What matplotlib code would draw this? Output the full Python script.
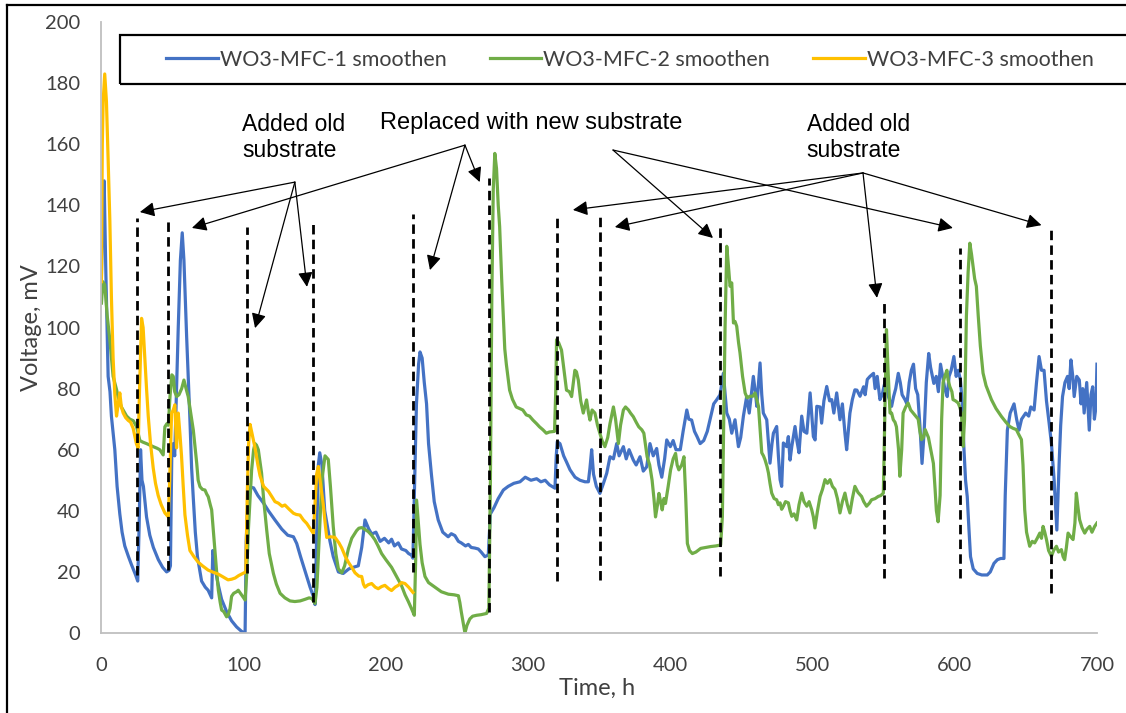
import matplotlib
matplotlib.use('Agg')
import matplotlib.pyplot as plt
from matplotlib.lines import Line2D
from matplotlib.patches import Rectangle

plt.rcParams['font.family'] = ['Lato', 'DejaVu Sans']

# Datos (tiempo h, voltaje mV)
mfc1 = [(0, 117), (1.2, 140), (1.9, 148), (3, 120), (4.7, 84), (6, 79), (7, 71), (9.4, 60), (11, 48),
        (12.9, 39), (14.5, 33), (16.4, 28.5), (19, 25), (21, 22.5), (24, 19), (25.5, 17),
        (26.5, 35), (27.5, 60), (28.5, 50), (29.5, 48), (31.7, 38), (34, 32), (36.5, 28), (40, 24),
        (43, 21.5), (45.8, 20), (47.5, 20.5),
        (48.5, 22), (49.5, 60), (50.5, 62), (51.5, 58), (52.5, 75), (54, 100), (55.5, 122), (56.8, 131),
        (58, 122), (59.9, 97), (61, 84), (62.2, 70), (63.4, 54), (64.6, 44), (66, 33), (67.5, 25),
        (70.4, 17), (73, 15), (75, 14), (77.5, 11.5), (78.3, 27), (79, 25), (80, 21), (82, 16),
        (84.5, 11), (88, 7), (91.5, 4), (95, 2), (98.6, 0.5), (101, 0),
        (101.8, 30), (103, 44), (105, 47.7), (107, 47.5), (110, 45), (114, 42.5), (117.4, 40), (122, 37),
        (126.8, 34), (131, 32), (135, 31.5), (137.3, 29.3), (140, 25), (142, 22), (146.7, 15), (149, 12),
        (150.2, 9.3),
        (151.5, 35), (152.5, 55), (153.5, 59), (155, 55), (157, 40), (160.7, 30), (163, 25), (166.6, 20),
        (170, 19.5), (174, 21), (177, 21.5), (180.6, 22), (183, 28), (185.3, 37), (188, 34), (190, 32.4),
        (193, 33), (196, 30), (199, 31), (202, 29.5), (204, 30.7), (206, 28.5), (208.7, 29.5), (211, 27.5),
        (214, 27), (216, 26), (218, 25.5), (219, 24.5),
        (220, 45), (221.5, 75), (223, 88), (224, 92), (225.5, 90), (227, 82), (228.6, 75), (230, 62),
        (232, 52), (234, 43), (236.8, 37), (240, 33), (243.8, 31.5), (246, 32.5), (248.5, 31.9),
        (251, 30), (253, 29.5), (256, 28.5), (258, 29), (260, 28), (262.6, 27.8), (265, 27.5),
        (267, 26.5), (269.6, 25), (272, 25.5),
        (273.5, 39), (276, 41), (279, 44), (282.6, 46.8), (286, 48), (290, 49), (294.3, 49.5), (298, 51),
        (302, 50), (306, 50.5), (309, 49.5), (312, 50), (315, 48.5), (318.9, 47.4),
        (319.8, 58), (320.5, 62.6), (322.4, 62), (325, 58), (327, 56), (329.5, 53.4), (333, 51),
        (336.5, 50), (340, 49.5), (342.4, 49.5), (343.5, 54), (344.7, 60), (346, 52), (348, 48),
        (350.5, 45.7), (353, 49), (355.3, 52.3), (357.6, 57.7), (360, 57), (362.3, 62), (364, 58),
        (367, 61), (369, 57), (371, 60), (374, 56.6), (376, 55), (378.7, 57.7), (381, 53), (383.4, 54.4),
        (385.7, 62), (388, 58), (390.4, 60.4), (392, 55), (394, 51), (396, 57), (397.5, 63.2), (400, 61),
        (402, 63), (404, 60), (407, 60), (409, 66), (411.6, 73), (413, 70), (415, 69.7), (417, 66),
        (418.8, 64.3), (421, 62), (423.5, 63), (426, 66), (428, 70), (430.5, 75), (432.7, 76.4),
        (435, 78), (437.3, 85), (439.7, 72), (441.5, 70), (443.2, 65.4), (445.5, 69.8), (447.9, 61),
        (449.5, 64), (451.4, 71), (453.7, 77.4), (455.5, 72), (458.4, 84), (460, 78), (460.8, 74.2),
        (463.1, 88.4), (464.3, 78), (465.4, 72), (467.8, 69.8), (470.1, 55.6), (471.5, 62), (472.5, 65.4),
        (474.8, 67.6), (476, 58), (477.2, 50.2), (478.3, 48), (479.5, 62.2), (481.8, 61), (483, 64.3),
        (484.2, 56.6), (485.4, 61), (487.7, 67.6), (489, 63), (490.5, 59), (492.4, 71), (494, 66),
        (496, 65.4), (498.3, 78.6), (500, 68), (500.6, 64.3), (501.8, 63.2), (503, 74.2), (505.3, 74),
        (506.4, 68.7), (508, 76), (510, 80.7), (512, 76), (513.5, 76.4), (515, 72), (517, 78.6),
        (519.3, 69.8), (521, 75), (522.8, 65.4), (524, 60), (526.3, 72), (528, 76.4), (529.8, 79.6),
        (531.2, 79.5), (533.4, 77.5), (535.9, 80.6), (537, 78), (538.5, 83), (540.4, 84), (542.9, 85),
        (544, 80), (545.5, 84), (547.4, 76.4), (549, 78), (550.2, 80.7), (551.5, 83), (553, 78),
        (555.6, 74.2), (557, 77.4), (558.5, 80), (560.3, 85), (561.7, 82), (563, 78), (565, 76.4),
        (566.4, 75), (568, 82), (569.5, 86), (571, 88), (572.5, 80), (574, 78), (575.5, 68), (577, 55.5),
        (578.5, 66), (580, 82), (581.7, 91.5), (583, 87), (585.3, 81.7), (587, 84), (588.5, 79),
        (590, 88), (591.5, 84), (593, 80), (594.7, 77.4), (596, 84), (597.5, 86), (599.4, 90.5),
        (601, 84), (602.5, 86), (604, 82.8), (605.3, 75), (606.4, 61), (607.6, 50), (608.8, 44.6),
        (610, 34), (611.1, 25), (613, 21), (615.8, 19.5), (619, 19), (622.9, 19), (625, 20),
        (627.6, 22.8), (630, 24), (632.3, 24.4), (634.6, 24.4), (635.5, 45), (637, 66.4), (639, 72),
        (641.7, 75), (643.5, 70), (645.2, 66.4), (647, 70), (649.9, 72), (652, 71), (653.5, 74),
        (655.8, 73), (657.5, 82), (659.3, 90.5), (661, 86), (662.8, 86), (664.5, 76), (666.4, 68.6),
        (668, 62), (669.9, 50), (671.8, 33.7), (673.4, 55.5), (674.5, 68), (675.8, 77.4), (677.5, 82),
        (679.3, 84), (680.5, 80), (681.7, 89.4), (683, 84), (684, 77.4), (685.8, 84), (687.6, 82.8),
        (688.8, 75), (690, 80), (691, 72), (692.8, 82), (694, 72), (694.6, 66.4), (695.8, 78),
        (697, 80.6), (698.2, 70), (699.3, 74), (700, 88)]

mfc2 = [(0, 108), (1, 115), (2.3, 114), (4, 104), (5.9, 96), (8.2, 84), (10.7, 79.5), (11.7, 77.3),
        (14, 74), (17.7, 71), (20, 70), (22.4, 69.5), (24.7, 67.5), (25.5, 66), (27, 63), (29, 62.5),
        (31.7, 62), (34, 61.5), (36.4, 61), (39, 60.5), (41, 60), (43.4, 58.3), (44.6, 67.5), (46, 68.5),
        (47, 68), (48.2, 77.4), (49.5, 84.5), (50.5, 84), (51.5, 79), (52.9, 77.4), (54.5, 78),
        (56.4, 80), (58, 82.8), (59.5, 80), (61, 77.4), (62.8, 72), (64.6, 66.4), (66, 60), (67, 55.5),
        (68, 50), (69.3, 47.9), (71, 47), (72.8, 46.8), (74, 45.5), (75.1, 44.6), (76.5, 42),
        (77.5, 40.3), (78.6, 34), (79.8, 27.2), (81, 20), (82.2, 14), (83.5, 10), (84.5, 7.5), (86, 7),
        (88, 5.3), (89.2, 6), (90.4, 8), (91.5, 12), (93, 13), (95, 13.5), (96.2, 14), (98.5, 12.5),
        (100, 11.5), (101, 10.8), (102, 18), (103.3, 33.7), (104.5, 44), (105.6, 53.4), (107, 60),
        (108, 62), (109, 61.5), (110.3, 60), (111.5, 56), (112.6, 52.3), (114, 44), (116.2, 33.7),
        (118, 26), (120.9, 19.5), (123, 16), (125.6, 13), (129, 11.5), (132.6, 10.5), (136, 10.3),
        (139.7, 10.5), (143, 11), (146, 11.5), (147.9, 11.3), (150.2, 9.7), (151.5, 15), (153, 30),
        (155, 50), (157.2, 58), (159.5, 56.8), (161, 48), (163, 34.8), (164.8, 26), (166.6, 21),
        (169, 19.7), (171, 22), (173.6, 27.5), (176, 31), (179.4, 33.5), (181, 34.3), (183, 34.5),
        (185, 34), (187.6, 33.2), (190, 32), (192.3, 30.5), (194.5, 28.5), (197, 26), (200, 24),
        (204, 21.5), (207.5, 18.5), (211, 15.5), (213.5, 12.5), (215.7, 10.4), (218, 8), (220, 5.8),
        (221, 25), (221.6, 43.5), (222.5, 38), (224, 29), (225.5, 23), (227.5, 18.5), (230, 16.5),
        (234.5, 15), (239, 13.5), (244, 12.7), (248, 12.5), (251, 12.2), (252, 10), (253, 7),
        (254.5, 3), (255.6, 0), (257, 2.5), (259, 4.6), (261, 5.5), (263.8, 5.8), (267, 6),
        (270.8, 6.4), (272.4, 8.1), (273.5, 50), (274.5, 110), (275.5, 145), (276.6, 157),
        (277.8, 152), (279, 140), (280, 133), (281.5, 115), (283.6, 93), (284.7, 88), (287, 79.5),
        (289, 76.5), (291.6, 74), (294, 73.5), (296.3, 73), (298.7, 71.4), (301, 71), (303.4, 69.7),
        (306, 68.5), (308, 67.5), (310.5, 66.5), (312.8, 65.4), (315, 65.8), (318.6, 66), (319.5, 80),
        (320, 96), (321.5, 95), (323.5, 92.6), (325, 87), (327, 79.5), (329, 79), (330.6, 77.4),
        (332.9, 86), (334, 85.5), (335.3, 82.8), (337, 76), (338.8, 72), (341.1, 76.3), (342.5, 72),
        (343.5, 69.7), (345, 73), (347, 72), (348.8, 68), (350.5, 65.4), (352, 63), (354, 61),
        (356, 64), (357.6, 68.6), (360, 74), (361.5, 70), (363.5, 62), (365, 68), (367, 73),
        (368.5, 74), (370.6, 73), (372, 72), (374, 70.8), (376, 69), (377.8, 67.5), (380, 66.5),
        (381.4, 65.4), (383.7, 57.7), (385.5, 55), (387.2, 50), (388.5, 44), (389.6, 38), (391, 42),
        (392, 45.7), (393.2, 43), (394.3, 40.3), (395.5, 44), (396.6, 42.4), (398.5, 48), (400.2, 53.4),
        (402, 57), (403.7, 58.8), (404.8, 55), (406, 53.4), (408, 55), (409.6, 57.7), (410.8, 45),
        (412, 29.3), (413.5, 27), (415.5, 26), (418, 26.5), (421.4, 27.7), (425, 28), (428.4, 28.3),
        (432, 28.5), (435.4, 28.8), (436.6, 38), (437.6, 70), (438.5, 100), (439.7, 126.6),
        (440.9, 120), (442, 113.5), (443.2, 114.6), (444.4, 101.5), (445.5, 102), (446.7, 100.4),
        (448, 95), (449, 91.7), (450.8, 84), (452.6, 78.6), (454, 77), (456, 77.5), (458, 77.5),
        (459.6, 78.6), (461, 76), (462, 74.2), (463.2, 66), (464.3, 59), (465.5, 58), (466.6, 56.7),
        (468, 54.5), (469, 52.4), (470.1, 49), (471.3, 45.8), (473, 44), (474.8, 43.6), (476, 42),
        (477.2, 42.6), (478.3, 40.5), (479.5, 41.5), (481, 43), (483, 42.6), (484.2, 40), (485.4, 38.2),
        (487, 39), (488.9, 37), (490.5, 42), (492.4, 45.8), (494, 43), (496, 41.5), (497.6, 43),
        (499.4, 40.4), (500.6, 38), (501.7, 34.4), (503.5, 40), (505.3, 44.7), (507, 47), (508.8, 50.2),
        (510.5, 49), (512.3, 50.2), (514, 48), (515.8, 47), (517.5, 44), (519.3, 39.3), (521, 43),
        (522.8, 45.8), (524.5, 42), (526.3, 39.3), (528, 44), (529.8, 48), (532, 46), (534.5, 44.7),
        (536, 43), (538, 41.5), (540, 42.5), (541.5, 43.6), (544, 44), (546.2, 44.7), (548, 45),
        (549.8, 45.8), (550.8, 70), (552, 99.3), (553.2, 85), (554.5, 72), (555.6, 72), (556.8, 69.8),
        (558, 69), (559, 67.5), (560.5, 60), (561.4, 51.3), (562.7, 60), (563.7, 72), (565.5, 74),
        (567.2, 75.3), (569, 73), (570.8, 72), (572.5, 71), (574.3, 70), (575.5, 66), (576.6, 63.3),
        (578, 64), (579.2, 66.6), (581.5, 64), (583.6, 58.9), (585, 55.5), (586.2, 47), (587.1, 40),
        (588.3, 36.4), (589.7, 45), (590.8, 70), (591.8, 82), (593, 84), (594.5, 86), (595.3, 83),
        (596.5, 80.7), (598, 79), (598.8, 76.4), (600.5, 76), (602.4, 75.3), (603.5, 74), (604.7, 72),
        (605.9, 61.1), (606.9, 70), (608.2, 103.7), (609.4, 118), (610.6, 127.6), (611.8, 124),
        (612.9, 120), (614, 116), (615.2, 113.5), (616.5, 104), (618, 94), (619.9, 85.1), (622, 81),
        (625.8, 76.4), (629, 73.5), (632.8, 70.9), (636, 69), (638.7, 67.6), (641, 67), (643.3, 66.6),
        (645, 65), (646.9, 63.3), (648, 55), (649.2, 40.4), (650.5, 33), (652.7, 28.4), (654.5, 30),
        (656.2, 29.5), (658, 31), (659.8, 32.7), (661, 31), (662.1, 34.9), (663.3, 33), (664.5, 30.6),
        (666, 27), (668, 25.1), (669.5, 27), (671.5, 28.4), (673, 26.5), (675, 27.3), (676.2, 25),
        (677.3, 24), (678.5, 28), (679.7, 32.7), (681.5, 31.5), (683.2, 30.6), (684.5, 36),
        (685.5, 45.8), (686.7, 41), (687.8, 37.1), (689.5, 34.5), (691.4, 32.7), (693, 34),
        (694.9, 34.9), (696.5, 33), (698.4, 34.9), (700, 36)]

mfc3 = [(0, 115), (0.6, 160), (1.2, 174), (2.3, 183), (3.5, 174), (4.7, 155), (5.9, 135), (7, 110),
        (8.2, 90), (9.4, 78), (10.6, 71), (11.8, 75), (12.9, 78.6), (14, 74), (15.3, 72), (17, 70.5),
        (18.8, 69.6), (20.5, 69), (22.3, 67), (24.6, 61.9), (25.8, 60.6), (26.8, 80), (28.2, 103),
        (29.3, 100), (30.5, 90), (31.7, 80), (32.9, 71), (34.5, 62), (36.4, 54), (38, 49), (39.9, 45),
        (42, 42), (44.6, 39.3), (47, 38), (48, 50), (49.3, 72), (50.5, 73), (51.6, 74.7), (52.8, 60.6),
        (54, 72), (55.2, 65), (56.3, 58), (57.5, 48), (58.7, 38.7), (60.5, 32), (62.2, 27), (65, 25),
        (68, 23.2), (71, 22), (75, 20.6), (78, 20), (82, 19.3), (85, 18.5), (89, 17.4), (91.5, 17.6),
        (94, 18), (96.5, 18.8), (98.6, 19.3), (101.5, 20), (102.5, 45), (103.5, 62), (104.5, 68.3),
        (106, 65), (108, 60.6), (110, 55), (111.5, 51.5), (114, 48), (117.4, 46.4), (120, 44.5),
        (122, 43), (124.4, 42.5), (127, 41.5), (129, 41.9), (132, 40.5), (135, 39.2), (137, 38.8),
        (139.6, 38.6), (142, 37), (144.3, 35.9), (147, 34), (149, 32.6), (150.2, 42.4), (151.3, 52),
        (152.5, 54.5), (154, 49), (156, 42), (157.5, 35), (158.4, 31.3), (161, 31.5), (164.2, 31.3),
        (167, 29.5), (169, 27.8), (171.5, 25), (173.6, 23.2), (176, 21.5), (178.3, 19.7), (181, 18.6),
        (183, 18.5), (184.2, 16), (185.3, 15), (187.5, 15.8), (190, 16.2), (192.5, 15), (194.6, 14.5),
        (197, 15.2), (199.3, 15.6), (202, 14.5), (204, 13.9), (206.5, 15), (208.7, 15.6), (211, 16.5),
        (213.4, 16.2), (216, 15), (219, 13.3)]

series_labels = ['WO3-MFC-1 smoothen', 'WO3-MFC-2 smoothen', 'WO3-MFC-3 smoothen']

# Líneas punteadas: tiempo, desde, hasta
marca_t = [25, 47, 102, 149, 219, 272.5, 320, 350.5, 435, 550, 604, 668]
marca_lo = [19, 20.5, 19.5, 10, 20, 7, 17, 17.5, 18.5, 18, 18, 13]
marca_hi = [136, 136, 133, 135, 137, 149, 137.5, 136.4, 133.3, 108, 126, 132.6]

# Anotaciones: texto, posición, origen de flechas, puntas
notas = [
    ('Added old\nsubstrate', (99, 162.2), (136, 147.6), [(27, 137.8), (108, 99.8), (144.5, 113.3)]),
    ('Replaced with new substrate', (302.5, 167), (255.6, 159.7), [(63.6, 132.6), (231, 118.8), (266, 147.6)]),
    (None, None, (359.7, 158.1), [(430, 129.3), (598.7, 132.6)]),
    ('Added old\nsubstrate', (496, 162.2), (535.5, 150.6), [(331.5, 138.5), (361, 132.9), (545.3, 109.7), (661, 133.5)]),
]

COLORES = ['#4472C4', '#70AD47', '#FFC000']
GRIS = '#404040'

fig = plt.figure(figsize=(11.26, 7.13), dpi=100)
ax = fig.add_axes([0.0901, 0.1122, 0.8841, 0.8569])

lineas = []
for datos, color in zip([mfc1, mfc2, mfc3], COLORES):
    t, v = zip(*datos)
    l, = ax.plot(t, v, color=color, lw=2.3, solid_joinstyle='round', zorder=2)
    lineas.append(l)

ax.vlines(marca_t, marca_lo, marca_hi, colors='black', lw=2.0,
          linestyles=(0, (3.4, 1.9)), zorder=3)

for texto, pos, origen, puntas in notas:
    if texto is not None:
        centrado = texto.startswith('Replaced')
        ax.text(pos[0], pos[1], texto, ha='center' if centrado else 'left', va='center',
                fontsize=17 if centrado else 16.5,
                family=['Liberation Sans', 'DejaVu Sans'], linespacing=1.2, color='black')
    for punta in puntas:
        ax.annotate('', xy=punta, xytext=origen,
                    arrowprops=dict(arrowstyle='-|>', color='black', lw=0.9,
                                    mutation_scale=22, shrinkA=0, shrinkB=0),
                    annotation_clip=False)

ax.set_xlim(0, 700)
ax.set_ylim(0, 200)
ax.set_xticks(range(0, 701, 100))
ax.set_yticks(range(0, 201, 20))
for lado in ['top', 'right']:
    ax.spines[lado].set_visible(False)
for lado in ['left', 'bottom']:
    ax.spines[lado].set_color('#BFBFBF')
    ax.spines[lado].set_linewidth(1.3)
ax.tick_params(axis='x', length=0, pad=17, labelsize=14.5, labelcolor=GRIS)
ax.tick_params(axis='y', length=0, pad=15, labelsize=14.5, labelcolor=GRIS)

ax.set_xlabel('Time, h', fontsize=17, color=GRIS)
ax.set_ylabel('Voltage, mV', fontsize=17, color=GRIS)
ax.xaxis.set_label_coords(0.498, -0.074)
ax.yaxis.set_label_coords(-0.060, 0.50)

# Recuadro de la leyenda
fig.add_artist(Rectangle((120 / 1126, 1 - 84 / 713), 1020 / 1126, 49 / 713,
                         transform=fig.transFigure, fill=False, ec='black', lw=1.6))
fig.legend(lineas, series_labels, loc='center', bbox_to_anchor=(630 / 1126, 1 - 60 / 713),
           ncol=3, frameon=False, fontsize=15.5, handlelength=2.4, handletextpad=0.1,
           columnspacing=2.0, labelcolor=GRIS)

# Borde de la figura
fig.add_artist(Line2D([7 / 1126, 7 / 1126], [0, 1 - 5 / 713], transform=fig.transFigure,
                      color='black', lw=1.6))
fig.add_artist(Line2D([7 / 1126, 1], [1 - 5 / 713, 1 - 5 / 713], transform=fig.transFigure,
                      color='black', lw=1.6))

fig.savefig('out.png', dpi=100)
